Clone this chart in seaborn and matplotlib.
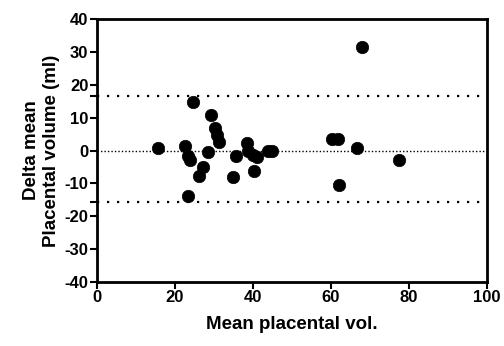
import matplotlib
matplotlib.use("Agg")
import matplotlib.pyplot as plt
import seaborn as sns
import pandas as pd

mean_vol = [15.6, 22.6, 23.4, 23.8, 23.4, 24.7, 26.1, 27.3, 28.5, 29.2, 30.4, 30.9,
            31.4, 34.8, 35.6, 38.4, 38.8, 40.1, 41.1, 40.3, 43.9, 45.0, 60.2, 61.9,
            62.1, 66.8, 68.1, 77.4]
delta = [0.9, 1.4, -1.6, -3.0, -13.8, 14.9, -7.7, -4.9, -0.5, 10.9, 7.0, 4.8,
         2.7, -8.1, -1.8, 2.2, -0.3, -1.3, -2.1, -6.2, -0.1, 0.0, 3.5, 3.5,
         -10.4, 0.9, 31.6, -2.8]
bias = 0.0
upper_loa = 16.6
lower_loa = -15.6
x_ticks = [0, 20, 40, 60, 80, 100]
y_ticks = [-40, -30, -20, -10, 0, 10, 20, 30, 40]

df = pd.DataFrame({"mean": mean_vol, "delta": delta})

sns.set_theme(style="white")
plt.rcParams["font.family"] = ["Liberation Sans", "DejaVu Sans"]
plt.rcParams["font.weight"] = "bold"
plt.rcParams["axes.unicode_minus"] = False
plt.rcParams["text.color"] = "black"
plt.rcParams["axes.labelcolor"] = "black"
plt.rcParams["xtick.color"] = "black"
plt.rcParams["ytick.color"] = "black"

fig = plt.figure(figsize=(5.04, 3.46), dpi=100)
ax = fig.add_axes([0.192, 0.185, 0.774, 0.76])

ax.axhline(upper_loa, color="black", linestyle=(0, (1, 3.5)), linewidth=1.6, zorder=1)
ax.axhline(lower_loa, color="black", linestyle=(0, (1, 3.5)), linewidth=1.6, zorder=1)
ax.axhline(bias, color="black", linestyle=(0, (1, 1.5)), linewidth=1.0, zorder=1)

sns.scatterplot(data=df, x="mean", y="delta", ax=ax, color="black", s=80,
                edgecolor="black", linewidth=0.5, zorder=3, legend=False)

ax.set_xlim(0, 100)
ax.set_ylim(-40, 40)
ax.set_xticks(x_ticks)
ax.set_xticklabels([str(v) for v in x_ticks], fontweight="bold", fontsize=12,
                   family="Liberation Sans")
ax.set_yticks(y_ticks)
ax.set_yticklabels([str(v) for v in y_ticks], fontweight="bold", fontsize=12,
                   family="Liberation Sans")
ax.set_yticks([lower_loa, upper_loa], minor=True)
ax.tick_params(axis="both", which="major", direction="out", length=5, width=1.5,
               pad=1, colors="black", bottom=True, left=True)
ax.tick_params(axis="y", which="minor", direction="out", length=5, width=1.5, left=True)

for sp in ax.spines.values():
    sp.set_visible(True)
    sp.set_color("black")
    sp.set_linewidth(2)

ax.set_xlabel("Mean placental vol.", fontsize=13.5, fontweight="bold", labelpad=8, color="black")
ax.set_ylabel("Delta mean\nPlacental volume (ml)", fontsize=13.5, fontweight="bold", labelpad=3,
              color="black", linespacing=1.25)

fig.savefig("out.png", dpi=100)
